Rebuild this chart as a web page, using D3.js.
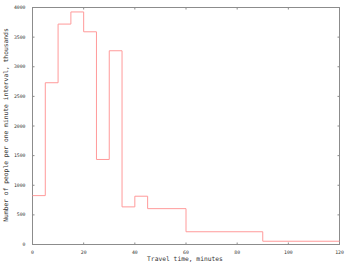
<html>
<head>
  <script src="https://cdn.jsdelivr.net/npm/d3@7"></script>
  <style>
    body { margin: 0; background: #fff; }
    text { font-family: "DejaVu Sans Mono", monospace; font-size: 6.3px; fill: #333; }
  </style>
</head>
<body>
<script>
// bin start (minutes) and people per one minute interval, thousands
const binStarts = [0, 5, 10, 15, 20, 25, 30, 35, 40, 45, 60, 90];
const binValues = [825, 2730, 3720, 3925, 3590, 1435, 3270, 635, 815, 605, 215, 55];
const xEnd = 120;
const xTicks = [0, 20, 40, 60, 80, 100, 120];
const yTicks = [0, 500, 1000, 1500, 2000, 2500, 3000, 3500, 4000];

const width = 350, height = 263;
const margin = {top: 7, right: 11, bottom: 19, left: 32};

const svg = d3.select('body').append('svg')
    .attr('width', width)
    .attr('height', height);

const x = d3.scaleLinear().domain([0, 120]).range([margin.left, width - margin.right]);
const y = d3.scaleLinear().domain([0, 4000]).range([height - margin.bottom, margin.top]);

const axisColor = '#8c8c8c';
const fmt = d3.format('d');

// frame
svg.append('rect')
    .attr('x', x(0) + 0.5)
    .attr('y', y(4000) + 0.5)
    .attr('width', x(120) - x(0))
    .attr('height', y(0) - y(4000))
    .attr('fill', 'none')
    .attr('stroke', axisColor)
    .attr('stroke-width', 1);

// bottom axis
const xAxis = svg.append('g')
    .attr('transform', 'translate(0,' + (y(0) + 0.5) + ')')
    .call(d3.axisBottom(x).tickValues(xTicks).tickFormat(fmt).tickSize(-2).tickPadding(6));
// left axis
const yAxis = svg.append('g')
    .attr('transform', 'translate(' + (x(0) + 0.5) + ',0)')
    .call(d3.axisLeft(y).tickValues(yTicks).tickFormat(fmt).tickSize(-2).tickPadding(7));
[xAxis, yAxis].forEach(g => {
  g.select('.domain').remove();
  g.selectAll('line').attr('stroke', axisColor);
  g.selectAll('text').attr('fill', '#444').style('font-family', '"DejaVu Sans Mono", monospace').style('font-size', '4.8px');
});

// mirrored ticks on top and right
svg.append('g')
    .attr('transform', 'translate(0,' + (y(4000) + 0.5) + ')')
    .call(d3.axisTop(x).tickValues(xTicks).tickSize(-2).tickFormat(''))
    .call(g => g.select('.domain').remove())
    .call(g => g.selectAll('line').attr('stroke', axisColor));
svg.append('g')
    .attr('transform', 'translate(' + (x(120) + 0.5) + ',0)')
    .call(d3.axisRight(y).tickValues(yTicks).tickSize(-2).tickFormat(''))
    .call(g => g.select('.domain').remove())
    .call(g => g.selectAll('line').attr('stroke', axisColor));

// step line
const pts = binStarts.map((s, i) => [s, binValues[i]]);
pts.push([xEnd, binValues[binValues.length - 1]]);
svg.append('path')
    .datum(pts)
    .attr('fill', 'none')
    .attr('stroke', '#ff9a9a')
    .attr('stroke-width', 1)
    .attr('d', d3.line().x(d => x(d[0]) + 0.5).y(d => y(d[1]) + 0.5).curve(d3.curveStepAfter));

// labels
svg.append('text')
    .attr('x', 185)
    .attr('y', 261)
    .attr('text-anchor', 'middle')
    .text('Travel time, minutes');
svg.append('text')
    .attr('transform', 'translate(7.5,125) rotate(-90)')
    .attr('text-anchor', 'middle')
    .text('Number of people per one minute interval, thousands');
</script>
</body>
</html>
